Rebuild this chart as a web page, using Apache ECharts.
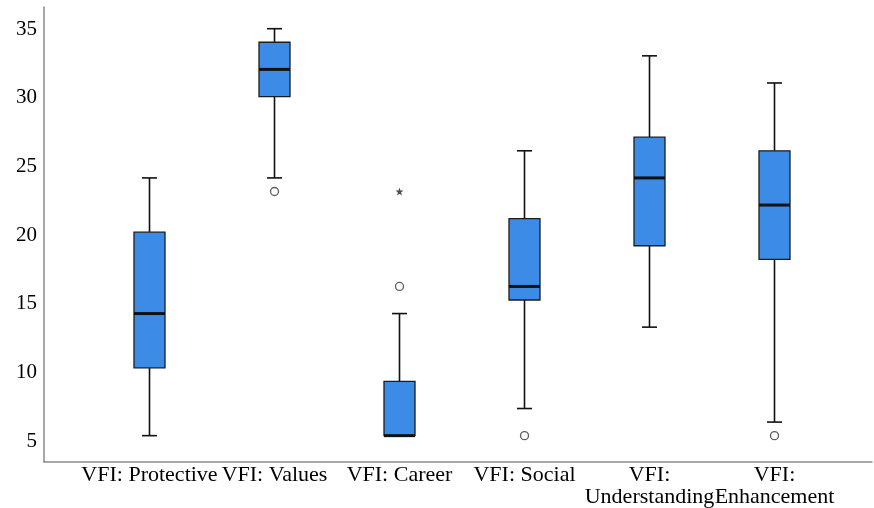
<!DOCTYPE html>
<html>
<head>
<meta charset="utf-8">
<script src="https://cdn.jsdelivr.net/npm/echarts@6/dist/echarts.min.js"></script>
<style>html,body{margin:0;padding:0;background:#fff}#c{width:874px;height:508px}</style>
</head>
<body>
<div id="c"></div>
<script>
const categories = ['VFI: Protective', 'VFI: Values', 'VFI: Career', 'VFI: Social', 'VFI:\nUnderstanding', 'VFI:\nEnhancement'];
const whiskerLow = [5, 24, 5, 7, 13, 6];
const q1 = [10, 30, 5, 15, 19, 18];
const median = [14, 32, 5, 16, 24, 22];
const q3 = [20, 34, 9, 21, 27, 26];
const whiskerHigh = [24, 35, 14, 26, 33, 31];
const outliers = [[1, 23], [2, 16], [3, 5], [5, 5]];
const extremes = [[2, 23]];
const yTicks = [5, 10, 15, 20, 25, 30, 35];

const boxData = categories.map((c, i) => [i, whiskerLow[i], q1[i], median[i], q3[i], whiskerHigh[i]]);
const font = '"Liberation Serif", "Times New Roman", serif';
const Y_MIN = 3.5, Y_MAX = 36.6;

const chart = echarts.init(document.getElementById('c'));
chart.setOption({
  animation: false,
  backgroundColor: '#fff',
  grid: [
    {left: 87, right: 37, top: 7, bottom: 46},
    {left: 44, right: 2, top: 7, bottom: 46}
  ],
  xAxis: [
    {type: 'category', gridIndex: 0, data: categories, boundaryGap: true,
     axisLine: {show: false}, axisTick: {show: false},
     axisLabel: {interval: 0, color: '#000', fontFamily: font, fontSize: 22, margin: 8, lineHeight: 22}},
    {type: 'value', gridIndex: 1, min: 0, max: 1, axisLine: {show: true, lineStyle: {color: '#8a8a8a', width: 1.5}},
     axisTick: {show: false}, axisLabel: {show: false}, splitLine: {show: false}}
  ],
  yAxis: [
    {type: 'value', gridIndex: 0, min: Y_MIN, max: Y_MAX, show: false, splitLine: {show: false}},
    {type: 'value', gridIndex: 1, min: Y_MIN, max: Y_MAX, interval: 0.5,
     axisLine: {show: true, lineStyle: {color: '#8a8a8a', width: 1.5}},
     axisTick: {show: false}, splitLine: {show: false},
     axisLabel: {color: '#000', fontFamily: font, fontSize: 21, margin: 7, padding: [5, 0, 0, 0],
       formatter: v => yTicks.includes(Math.round(v * 100) / 100) ? String(Math.round(v)) : ''}}
  ],
  series: [
    {
      type: 'custom', xAxisIndex: 0, yAxisIndex: 0, data: boxData,
      renderItem: function (params, api) {
        const i = api.value(0);
        const pLo = api.coord([i, api.value(1)]);
        const pQ1 = api.coord([i, api.value(2)]);
        const pMed = api.coord([i, api.value(3)]);
        const pQ3 = api.coord([i, api.value(4)]);
        const pHi = api.coord([i, api.value(5)]);
        const x = pMed[0], hb = 15.5, hc = 7.5;
        const line = (x1, y1, x2, y2, w) => ({type: 'line', shape: {x1, y1, x2, y2}, style: {stroke: '#111', lineWidth: w}});
        const ch = [];
        if (pHi[1] < pQ3[1]) { ch.push(line(x, pHi[1], x, pQ3[1], 1.6)); ch.push(line(x - hc, pHi[1], x + hc, pHi[1], 1.6)); }
        if (pLo[1] > pQ1[1]) { ch.push(line(x, pQ1[1], x, pLo[1], 1.6)); ch.push(line(x - hc, pLo[1], x + hc, pLo[1], 1.6)); }
        ch.push({type: 'rect', shape: {x: x - hb, y: pQ3[1], width: 2 * hb, height: pQ1[1] - pQ3[1]},
                 style: {fill: '#3c8ce7', stroke: '#1c1c1c', lineWidth: 1.3}});
        ch.push(line(x - hb, pMed[1], x + hb, pMed[1], 3));
        return {type: 'group', children: ch};
      }
    },
    {type: 'scatter', xAxisIndex: 0, yAxisIndex: 0, data: outliers, symbol: 'circle', symbolSize: 8,
     itemStyle: {color: '#fff', borderColor: '#333', borderWidth: 1.3}},
    {type: 'scatter', xAxisIndex: 0, yAxisIndex: 0, data: extremes,
     symbol: 'path://M0,-10 L2.35,-3.24 L9.51,-3.09 L3.8,1.24 L5.88,8.09 L0,4 L-5.88,8.09 L-3.8,1.24 L-9.51,-3.09 L-2.35,-3.24 Z',
     symbolSize: 8, itemStyle: {color: '#222'}}
  ]
});
</script>
</body>
</html>
